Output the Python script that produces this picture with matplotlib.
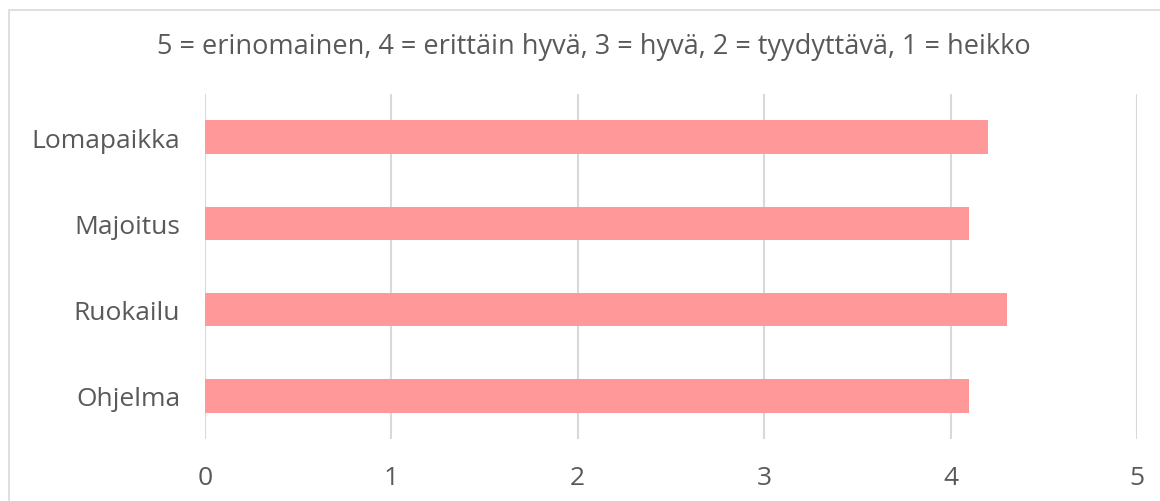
import matplotlib.pyplot as plt
from matplotlib.patches import Rectangle

# data
categories = ['Ohjelma', 'Ruokailu', 'Majoitus', 'Lomapaikka']
values = [4.1, 4.3, 4.1, 4.2]
title = '5 = erinomainen, 4 = erittäin hyvä, 3 = hyvä, 2 = tyydyttävä, 1 = heikko'

plt.rcParams['font.family'] = ['Open Sans', 'DejaVu Sans']
grey = '#595959'

fig = plt.figure(figsize=(11.6, 5.02), dpi=100)
ax = fig.add_axes([205 / 1160, 1 - 440 / 502, 932 / 1160, 345 / 502])

ax.barh(categories, values, height=0.39, color='#ff9999', zorder=2)

ax.set_xlim(0, 5)
ax.set_ylim(-0.5, 3.5)
ax.set_xticks([0, 1, 2, 3, 4, 5])
ax.grid(axis='x', color='#d9d9d9', linewidth=1.5, zorder=0)
for s in ax.spines.values():
    s.set_visible(False)
ax.tick_params(length=0, labelsize=19, colors=grey)
ax.tick_params(axis='x', pad=19)
ax.tick_params(axis='y', pad=18)

fig.text(0.512, 1 - 47 / 502, title, ha='center', va='center', fontsize=19.5, color=grey)

# chart border
fig.patches.append(Rectangle((9 / 1160, -0.1), 1.1, 1.1 - 11 / 502, transform=fig.transFigure,
                             fill=False, edgecolor='#d9d9d9', linewidth=1.2))

fig.savefig('out.png', dpi=100)
